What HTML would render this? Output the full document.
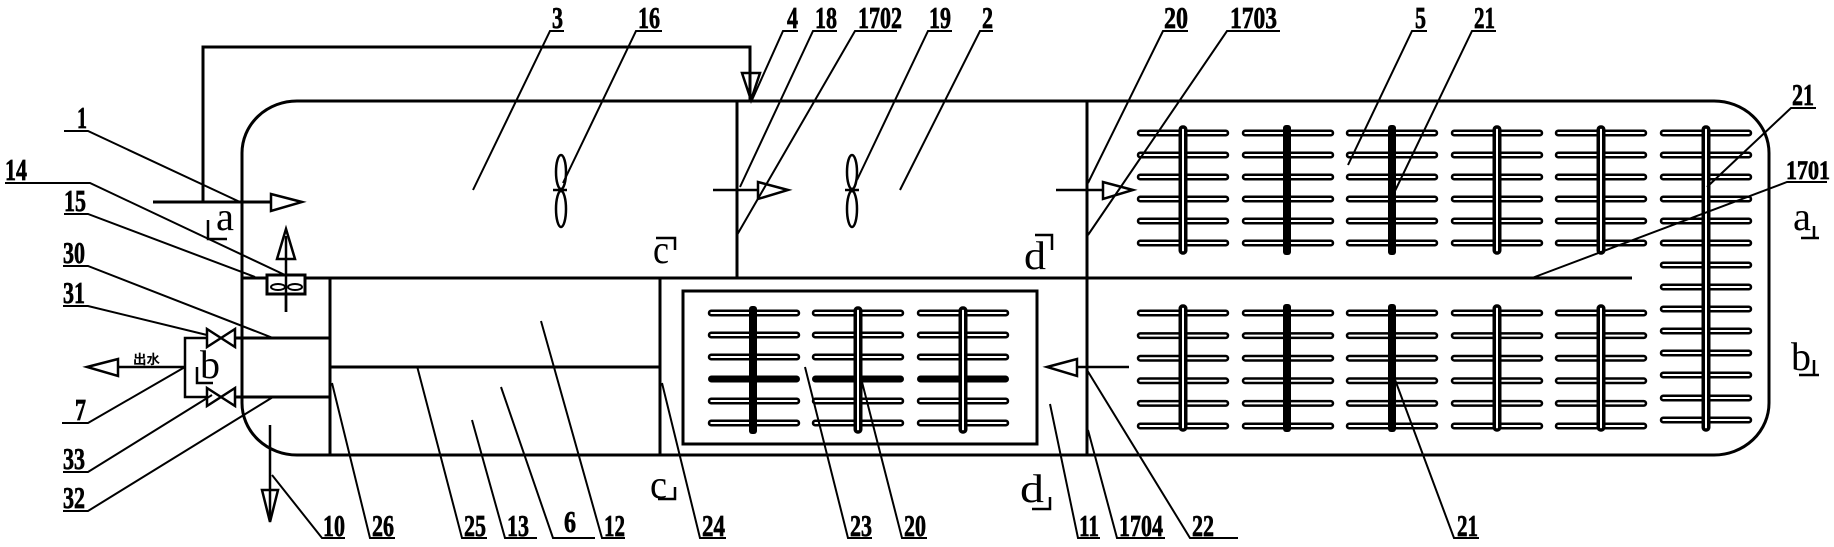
<!DOCTYPE html>
<html>
<head>
<meta charset="utf-8">
<style>
html,body{margin:0;padding:0;background:#fff;}
svg{display:block;}
.n{font-family:"Liberation Serif",serif;font-weight:bold;font-size:31px;fill:#000;stroke:#000;stroke-width:0.7px;}
.l{font-family:"Liberation Serif",serif;font-size:40px;fill:#000;}
.cn{font-family:"Liberation Sans","Noto Sans CJK SC",sans-serif;font-weight:bold;font-size:13px;fill:#000;}
</style>
</head>
<body>
<svg width="1834" height="547" viewBox="0 0 1834 547" xmlns="http://www.w3.org/2000/svg">
<defs>
  <g id="bU">
    <rect x="0" y="-2.25" width="90" height="4.5" rx="2.25" fill="#fff" stroke="#000" stroke-width="2.5"/>
    <rect x="0" y="19.75" width="90" height="4.5" rx="2.25" fill="#fff" stroke="#000" stroke-width="2.5"/>
    <rect x="0" y="41.75" width="90" height="4.5" rx="2.25" fill="#fff" stroke="#000" stroke-width="2.5"/>
    <rect x="0" y="63.75" width="90" height="4.5" rx="2.25" fill="#fff" stroke="#000" stroke-width="2.5"/>
    <rect x="0" y="85.75" width="90" height="4.5" rx="2.25" fill="#fff" stroke="#000" stroke-width="2.5"/>
    <rect x="0" y="107.75" width="90" height="4.5" rx="2.25" fill="#fff" stroke="#000" stroke-width="2.5"/>
  </g>
  <g id="bL">
    <rect x="0" y="-2.25" width="90" height="4.5" rx="2.25" fill="#fff" stroke="#000" stroke-width="2.5"/>
    <rect x="0" y="20.35" width="90" height="4.5" rx="2.25" fill="#fff" stroke="#000" stroke-width="2.5"/>
    <rect x="0" y="42.95" width="90" height="4.5" rx="2.25" fill="#fff" stroke="#000" stroke-width="2.5"/>
    <rect x="0" y="65.55" width="90" height="4.5" rx="2.25" fill="#fff" stroke="#000" stroke-width="2.5"/>
    <rect x="0" y="88.15" width="90" height="4.5" rx="2.25" fill="#fff" stroke="#000" stroke-width="2.5"/>
    <rect x="0" y="110.75" width="90" height="4.5" rx="2.25" fill="#fff" stroke="#000" stroke-width="2.5"/>
  </g>
  <g id="bI">
    <rect x="0" y="-2.25" width="90" height="4.5" rx="2.25" fill="#fff" stroke="#000" stroke-width="2.5"/>
    <rect x="0" y="19.75" width="90" height="4.5" rx="2.25" fill="#fff" stroke="#000" stroke-width="2.5"/>
    <rect x="0" y="41.75" width="90" height="4.5" rx="2.25" fill="#fff" stroke="#000" stroke-width="2.5"/>
    <rect x="-1" y="62.5" width="92" height="7" rx="3.5" fill="#000"/>
    <rect x="0" y="85.75" width="90" height="4.5" rx="2.25" fill="#fff" stroke="#000" stroke-width="2.5"/>
    <rect x="0" y="107.75" width="90" height="4.5" rx="2.25" fill="#fff" stroke="#000" stroke-width="2.5"/>
  </g>
</defs>

<rect x="0" y="0" width="1834" height="547" fill="#fff"/>

<!-- main structure -->
<g fill="none" stroke="#000" stroke-width="3">
  <rect x="242" y="101" width="1527" height="354" rx="55" ry="52"/>
  <line x1="242" y1="278" x2="1632" y2="278"/>
  <line x1="737" y1="101" x2="737" y2="278"/>
  <line x1="1087" y1="101" x2="1087" y2="455"/>
  <line x1="330" y1="278" x2="330" y2="455"/>
  <line x1="660" y1="278" x2="660" y2="455"/>
  <line x1="330" y1="367" x2="660" y2="367"/>
  <line x1="235" y1="338" x2="330" y2="338"/>
  <line x1="235" y1="397" x2="330" y2="397"/>
  <rect x="683" y="291" width="354" height="153"/>
  <!-- top pipe -->
  <polyline points="203,202 203,47 750,47 750,100"/>
  <line x1="153" y1="202" x2="272" y2="202"/>
  <!-- b box -->
  <polyline points="207,338 185,338 185,397 207,397" stroke-width="2.5"/>
  <line x1="185" y1="367" x2="118" y2="367" stroke-width="2.5"/>
  <!-- up arrow line -->
  <line x1="286" y1="312" x2="286" y2="236" stroke-width="2.5"/>
  <!-- down arrow line -->
  <line x1="270" y1="425" x2="270" y2="518" stroke-width="2.5"/>
  <!-- flow arrows lines -->
  <line x1="713" y1="190" x2="758" y2="190" stroke-width="2.5"/>
  <line x1="1056" y1="190" x2="1103" y2="190" stroke-width="2.5"/>
  <line x1="1129" y1="367" x2="1077" y2="367" stroke-width="2.5"/>
</g>

<!-- arrowheads -->
<g fill="#fff" stroke="#000" stroke-width="2.5" stroke-linejoin="miter">
  <polygon points="271,194 271,211 302,202"/>
  <polygon points="742,73 760,73 751,100" fill="none"/>
  <polygon points="277,259 295,259 286,229" fill="none"/>
  <polygon points="118,359 118,376 87,367"/>
  <polygon points="262,490 278,490 270,522" fill="none"/>
  <polygon points="758,182 758,199 788,190"/>
  <polygon points="1103,182 1103,199 1133,190"/>
  <polygon points="1077,359 1077,376 1047,367"/>
</g>

<!-- valves -->
<g fill="#fff" stroke="#000" stroke-width="2.5">
  <path d="M207,329 L235,347 L235,329 L207,347 Z"/>
  <path d="M207,388 L235,406 L235,388 L207,406 Z"/>
</g>

<!-- box 14/15 -->
<rect x="267" y="275" width="38" height="19" fill="#fff" stroke="#000" stroke-width="3"/>
<g fill="none" stroke="#000" stroke-width="2">
  <ellipse cx="278" cy="287" rx="7" ry="3"/>
  <ellipse cx="295" cy="287" rx="7" ry="3"/>
</g>
<line x1="286" y1="276" x2="286" y2="312" stroke="#000" stroke-width="2.5"/>

<!-- fans -->
<g fill="#fff" stroke="#000" stroke-width="2.5">
  <ellipse cx="561" cy="172" rx="5" ry="17"/>
  <ellipse cx="561" cy="209" rx="5" ry="18"/>
  <line x1="553" y1="190" x2="567" y2="190"/>
  <ellipse cx="852" cy="172" rx="5" ry="17"/>
  <ellipse cx="852" cy="209" rx="5" ry="18"/>
  <line x1="845" y1="190" x2="859" y2="190"/>
</g>

<!-- pipe groups upper -->
<use href="#bU" x="1138" y="133"/>
<use href="#bU" x="1243" y="133"/>
<use href="#bU" x="1347" y="133"/>
<use href="#bU" x="1452" y="133"/>
<use href="#bU" x="1556" y="133"/>
<use href="#bU" x="1661" y="133"/>
<use href="#bU" x="1661" y="265"/>
<rect x="1661" y="395.75" width="90" height="4.5" rx="2.25" fill="#fff" stroke="#000" stroke-width="2.5"/>
<rect x="1661" y="417.75" width="90" height="4.5" rx="2.25" fill="#fff" stroke="#000" stroke-width="2.5"/>
<!-- lower groups -->
<use href="#bL" x="1138" y="313"/>
<use href="#bL" x="1243" y="313"/>
<use href="#bL" x="1347" y="313"/>
<use href="#bL" x="1452" y="313"/>
<use href="#bL" x="1556" y="313"/>
<!-- inner box groups -->
<use href="#bI" x="709" y="313"/>
<use href="#bI" x="813" y="313"/>
<use href="#bI" x="918" y="313"/>

<!-- verticals -->
<g fill="#fff" stroke="#000" stroke-width="3.5">
  <rect x="1180.25" y="127" width="5.5" height="126" rx="2.5"/>
  <rect x="1494.25" y="127" width="5.5" height="126" rx="2.5"/>
  <rect x="1598.25" y="127" width="5.5" height="126" rx="2.5"/>
  <rect x="1703.25" y="127" width="5.5" height="303" rx="2.5"/>
  <rect x="1180.25" y="306" width="5.5" height="124" rx="2.5"/>
  <rect x="1494.25" y="306" width="5.5" height="124" rx="2.5"/>
  <rect x="1598.25" y="306" width="5.5" height="124" rx="2.5"/>
  <rect x="855.25" y="308" width="5.5" height="124" rx="2.5"/>
  <rect x="960.25" y="308" width="5.5" height="124" rx="2.5"/>
</g>
<g fill="#000">
  <rect x="1283" y="125" width="8" height="130" rx="3"/>
  <rect x="1388" y="125" width="8" height="130" rx="3"/>
  <rect x="1283" y="304" width="8" height="128" rx="3"/>
  <rect x="1388" y="304" width="8" height="128" rx="3"/>
  <rect x="749" y="306" width="8" height="128" rx="3"/>
</g>

<!-- section marks -->
<g fill="none" stroke="#000" stroke-width="2.5">
  <path d="M208,220 V239 H227"/>
  <path d="M197,367 V383 H213"/>
  <path d="M656,238 H675 V250"/>
  <path d="M658,499 H675 V487"/>
  <path d="M1035,235 H1052 V250"/>
  <path d="M1032,509 H1050 V497"/>
  <path d="M1801,238 H1819 M1814,238 V226"/>
  <path d="M1799,375 H1819 M1814,375 V360"/>
</g>
<text class="l" x="216" y="230" textLength="18" lengthAdjust="spacingAndGlyphs">a</text>
<text class="l" x="200" y="378" textLength="20" lengthAdjust="spacingAndGlyphs">b</text>
<text class="l" x="653" y="263" textLength="16" lengthAdjust="spacingAndGlyphs">c</text>
<text class="l" x="650" y="498" textLength="17" lengthAdjust="spacingAndGlyphs">c</text>
<text class="l" x="1024" y="269" textLength="22" lengthAdjust="spacingAndGlyphs">d</text>
<text class="l" x="1020" y="502" textLength="24" lengthAdjust="spacingAndGlyphs">d</text>
<text class="l" x="1793" y="230" textLength="18" lengthAdjust="spacingAndGlyphs">a</text>
<text class="l" x="1791" y="370" textLength="20" lengthAdjust="spacingAndGlyphs">b</text>

<text class="cn" x="133" y="364" textLength="27" lengthAdjust="spacingAndGlyphs">出水</text>

<!-- leaders & underlines -->
<g fill="none" stroke="#000" stroke-width="2">
  <!-- top -->
  <polyline points="564,31 550,31 473,190"/>
  <polyline points="662,31 636,31 563,183"/>
  <polyline points="798,31 783,31 752,100"/>
  <polyline points="837,31 813,31 740,187"/>
  <polyline points="897,31 855,31 737,235"/>
  <polyline points="952,31 928,31 857,180"/>
  <polyline points="993,31 980,31 900,190"/>
  <polyline points="1188,31 1163,31 1088,183"/>
  <polyline points="1280,31 1227,31 1088,235"/>
  <polyline points="1427,31 1412,31 1348,165"/>
  <polyline points="1496,31 1472,31 1394,193"/>
  <!-- right -->
  <polyline points="1816,108 1791,108 1707,187"/>
  <polyline points="1827,182 1787,182 1532,278"/>
  <!-- left -->
  <polyline points="64,131 88,131 240,202"/>
  <polyline points="5,183 90,183 285,275"/>
  <polyline points="64,214 88,214 255,277"/>
  <polyline points="63,266 88,266 273,338"/>
  <polyline points="63,306 88,306 207,335"/>
  <polyline points="62,423 88,423 185,367"/>
  <polyline points="63,472 88,472 212,395"/>
  <polyline points="63,511 88,511 273,397"/>
  <!-- bottom -->
  <polyline points="345,538 322,538 272,475"/>
  <polyline points="395,538 370,538 332,383"/>
  <polyline points="487,538 462,538 417,366"/>
  <polyline points="537,538 505,538 472,420"/>
  <polyline points="595,538 553,538 501,387"/>
  <polyline points="625,538 602,538 541,321"/>
  <polyline points="726,538 700,538 662,383"/>
  <polyline points="872,538 848,538 805,367"/>
  <polyline points="927,538 902,538 862,382"/>
  <polyline points="1100,538 1078,538 1050,404"/>
  <polyline points="1165,538 1117,538 1088,430"/>
  <polyline points="1238,538 1190,538 1087,370"/>
  <polyline points="1479,538 1454,538 1394,377"/>
</g>

<!-- labels -->
<g class="n">
  <text x="552" y="28" textLength="11" lengthAdjust="spacingAndGlyphs">3</text>
  <text x="638" y="28" textLength="22" lengthAdjust="spacingAndGlyphs">16</text>
  <text x="787" y="28" textLength="11" lengthAdjust="spacingAndGlyphs">4</text>
  <text x="815" y="28" textLength="22" lengthAdjust="spacingAndGlyphs">18</text>
  <text x="858" y="28" textLength="44" lengthAdjust="spacingAndGlyphs">1702</text>
  <text x="929" y="28" textLength="22" lengthAdjust="spacingAndGlyphs">19</text>
  <text x="982" y="28" textLength="11" lengthAdjust="spacingAndGlyphs">2</text>
  <text x="1164" y="28" textLength="24" lengthAdjust="spacingAndGlyphs">20</text>
  <text x="1230" y="28" textLength="47" lengthAdjust="spacingAndGlyphs">1703</text>
  <text x="1415" y="28" textLength="11" lengthAdjust="spacingAndGlyphs">5</text>
  <text x="1474" y="28" textLength="21" lengthAdjust="spacingAndGlyphs">21</text>

  <text x="1792" y="105" textLength="22" lengthAdjust="spacingAndGlyphs">21</text>
  <text x="1786" y="179" textLength="44" lengthAdjust="spacingAndGlyphs" style="font-size:26px">1701</text>

  <text x="77" y="128" textLength="10" lengthAdjust="spacingAndGlyphs">1</text>
  <text x="5" y="180" textLength="22" lengthAdjust="spacingAndGlyphs">14</text>
  <text x="64" y="211" textLength="22" lengthAdjust="spacingAndGlyphs">15</text>
  <text x="63" y="263" textLength="22" lengthAdjust="spacingAndGlyphs">30</text>
  <text x="63" y="303" textLength="22" lengthAdjust="spacingAndGlyphs">31</text>
  <text x="75" y="420" textLength="11" lengthAdjust="spacingAndGlyphs">7</text>
  <text x="63" y="469" textLength="22" lengthAdjust="spacingAndGlyphs">33</text>
  <text x="63" y="508" textLength="22" lengthAdjust="spacingAndGlyphs">32</text>

  <text x="323" y="536" textLength="22" lengthAdjust="spacingAndGlyphs">10</text>
  <text x="372" y="536" textLength="22" lengthAdjust="spacingAndGlyphs">26</text>
  <text x="464" y="536" textLength="22" lengthAdjust="spacingAndGlyphs">25</text>
  <text x="507" y="536" textLength="22" lengthAdjust="spacingAndGlyphs">13</text>
  <text x="564" y="532" textLength="12" lengthAdjust="spacingAndGlyphs">6</text>
  <text x="604" y="536" textLength="21" lengthAdjust="spacingAndGlyphs">12</text>
  <text x="702" y="536" textLength="23" lengthAdjust="spacingAndGlyphs">24</text>
  <text x="850" y="536" textLength="22" lengthAdjust="spacingAndGlyphs">23</text>
  <text x="904" y="536" textLength="22" lengthAdjust="spacingAndGlyphs">20</text>
  <text x="1079" y="536" textLength="20" lengthAdjust="spacingAndGlyphs">11</text>
  <text x="1119" y="536" textLength="44" lengthAdjust="spacingAndGlyphs">1704</text>
  <text x="1192" y="536" textLength="22" lengthAdjust="spacingAndGlyphs">22</text>
  <text x="1457" y="536" textLength="21" lengthAdjust="spacingAndGlyphs">21</text>
</g>
</svg>
</body>
</html>
